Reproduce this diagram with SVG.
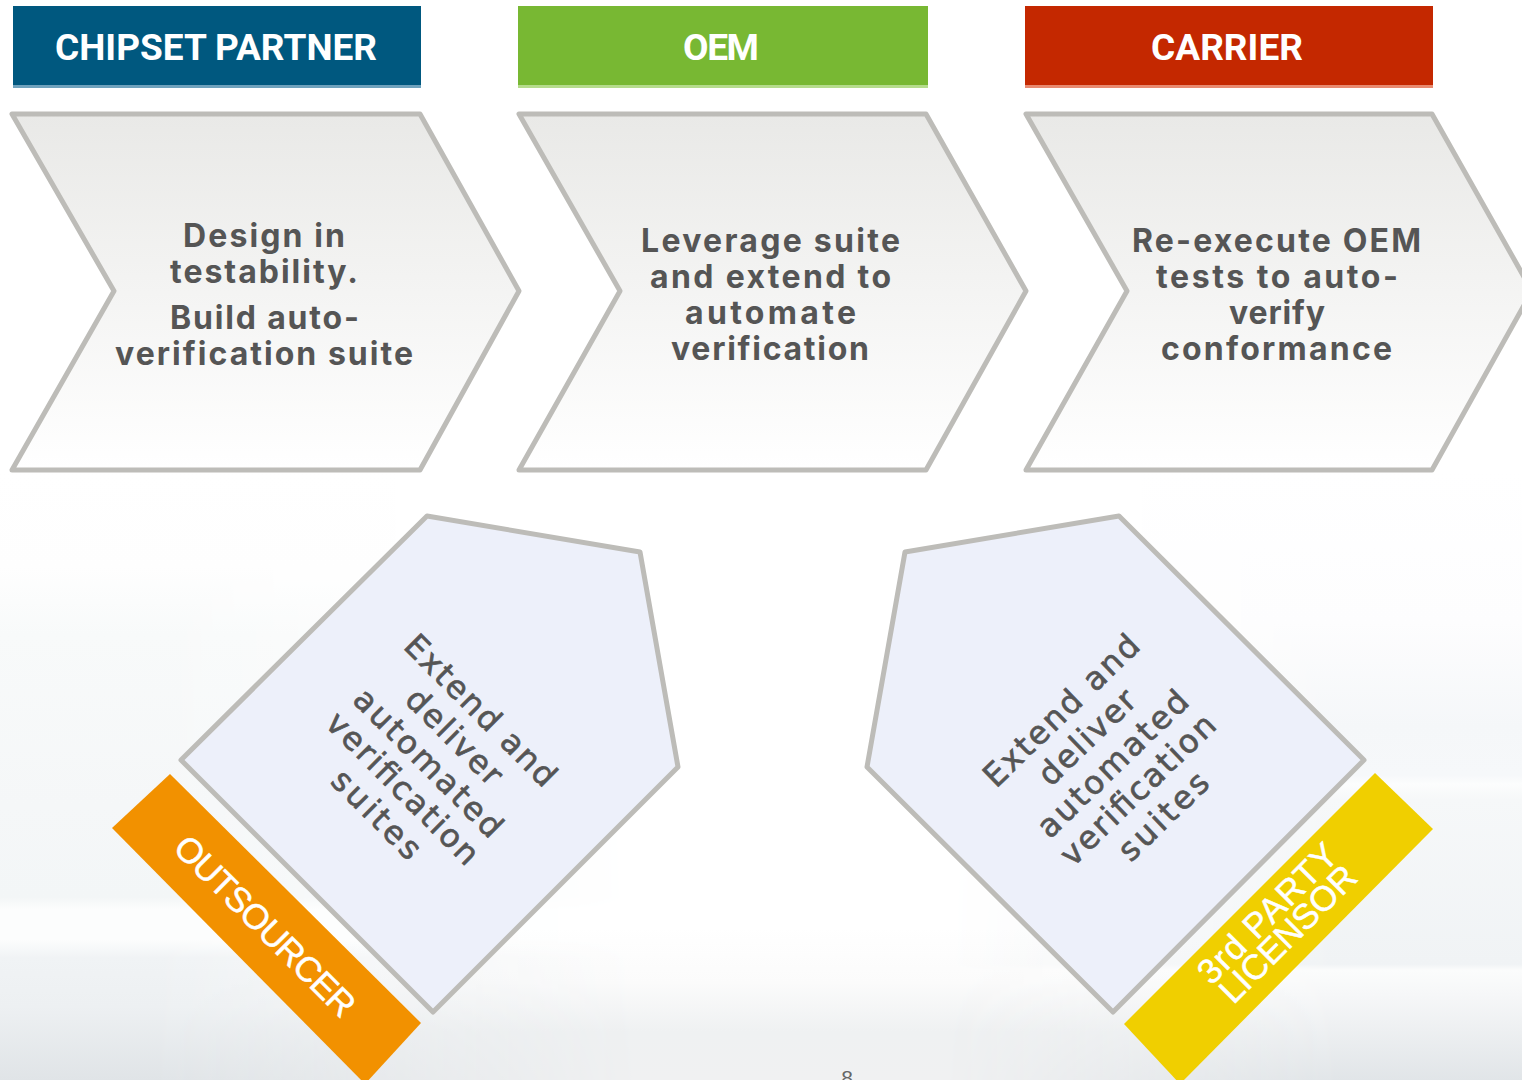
<svg xmlns="http://www.w3.org/2000/svg" width="1522" height="1080" viewBox="0 0 1522 1080">
<defs>
<linearGradient id="skyL" x1="0" y1="470" x2="0" y2="1080" gradientUnits="userSpaceOnUse"><stop offset="0" stop-color="#fff"/><stop offset="0.16" stop-color="#fefefe"/><stop offset="0.27" stop-color="#f8fafa"/><stop offset="0.55" stop-color="#f5f7f8"/><stop offset="0.7" stop-color="#f3f6f7"/><stop offset="0.72" stop-color="#fcfdfd"/><stop offset="0.77" stop-color="#fcfdfd"/><stop offset="0.8" stop-color="#f0f3f5"/><stop offset="0.88" stop-color="#edf0f2"/><stop offset="1" stop-color="#e0e4e7"/></linearGradient>
<linearGradient id="skyR" x1="0" y1="470" x2="0" y2="1080" gradientUnits="userSpaceOnUse"><stop offset="0" stop-color="#fff"/><stop offset="0.25" stop-color="#fdfdfe"/><stop offset="0.42" stop-color="#f5f7f9"/><stop offset="0.5" stop-color="#f6f8fa"/><stop offset="0.515" stop-color="#fcfdfd"/><stop offset="0.54" stop-color="#f6f8f9"/><stop offset="0.81" stop-color="#f0f3f5"/><stop offset="0.82" stop-color="#fbfcfc"/><stop offset="0.86" stop-color="#f6f7f8"/><stop offset="1" stop-color="#e1e5e8"/></linearGradient>
<linearGradient id="skyC" x1="0" y1="470" x2="0" y2="1080" gradientUnits="userSpaceOnUse"><stop offset="0" stop-color="#fff"/><stop offset="0.75" stop-color="#fff"/><stop offset="0.84" stop-color="#fbfbfb"/><stop offset="0.92" stop-color="#eff1f2"/><stop offset="1" stop-color="#f0f1f2"/></linearGradient>
<linearGradient id="fadeL" x1="0" y1="0" x2="1522" y2="0" gradientUnits="userSpaceOnUse"><stop offset="0.1" stop-color="#fff"/><stop offset="0.42" stop-color="#000"/></linearGradient>
<linearGradient id="fadeR" x1="0" y1="0" x2="1522" y2="0" gradientUnits="userSpaceOnUse"><stop offset="0.62" stop-color="#000"/><stop offset="0.88" stop-color="#fff"/></linearGradient>
<mask id="mL" maskUnits="userSpaceOnUse" x="0" y="0" width="1522" height="1080"><rect width="1522" height="1080" fill="url(#fadeL)"/></mask>
<mask id="mR" maskUnits="userSpaceOnUse" x="0" y="0" width="1522" height="1080"><rect width="1522" height="1080" fill="url(#fadeR)"/></mask>
<linearGradient id="chev" x1="0" y1="0" x2="0" y2="1"><stop offset="0" stop-color="#e9e9e7"/><stop offset="1" stop-color="#fff"/></linearGradient>
<style>
.hd{font:700 37px Roboto,"Liberation Sans",Arial,sans-serif;fill:#fff}
.body{font:700 32px Inter,"Liberation Sans",Arial,sans-serif;fill:#555}
.chev{fill:url(#chev);stroke:#bdbcb8;stroke-width:5;stroke-linejoin:round}
.pent{fill:#edf0fa;stroke:#bdbcb8;stroke-width:5;stroke-linejoin:round}
.rot{font:32px "DejaVu Sans",Arial,sans-serif;fill:#555;stroke:#555;stroke-width:.7}
.tag{font:35px "Liberation Sans",Arial,sans-serif;fill:#fff;stroke:#fff;stroke-width:.5}
</style>
</defs>
<g id="background"><rect width="1522" height="1080" fill="url(#skyC)"/>
<rect width="1522" height="1080" fill="url(#skyL)" mask="url(#mL)"/>
<rect width="1522" height="1080" fill="url(#skyR)" mask="url(#mR)"/></g>
<g id="connectors"/>
<g id="header-chipset"><rect x="13" y="6" width="408" height="82" fill="#00587f"/><rect x="13" y="85" width="408" height="3" fill="#6fa2bd"/><text class="hd" x="55" y="60" textLength="322">CHIPSET PARTNER</text></g>
<g id="header-oem"><rect x="518" y="6" width="410" height="82" fill="#78b833"/><rect x="518" y="85" width="410" height="3" fill="#b5dc8c"/><text class="hd" x="683" y="60" textLength="76">OEM</text></g>
<g id="header-carrier"><rect x="1025" y="6" width="408" height="82" fill="#c42800"/><rect x="1025" y="85" width="408" height="3" fill="#e88a70"/><text class="hd" x="1151" y="60" textLength="152">CARRIER</text></g>
<g id="step-chipset"><path class="chev" d="M12 114H420L519 291 420 470H12L114 291Z"/>
<text class="body" x="183" y="247" textLength="162">Design in</text>
<text class="body" x="170" y="283" textLength="188">testability.</text>
<text class="body" x="170" y="329" textLength="189">Build auto-</text>
<text class="body" x="115" y="365" textLength="298">verification suite</text></g>
<g id="step-oem"><path class="chev" d="M519 114H926L1026 291 926 470H519L620 291Z"/>
<text class="body" x="641" y="252" textLength="259">Leverage suite</text>
<text class="body" x="650" y="288" textLength="241">and extend to</text>
<text class="body" x="685" y="324" textLength="171">automate</text>
<text class="body" x="671" y="360" textLength="198">verification</text></g>
<g id="step-carrier"><path class="chev" d="M1026 114H1432L1532 291 1432 470H1026L1127 291Z"/>
<text class="body" x="1132" y="252" textLength="289">Re-execute OEM</text>
<text class="body" x="1156" y="288" textLength="242">tests to auto-</text>
<text class="body" x="1229" y="324" textLength="96">verify</text>
<text class="body" x="1161" y="360" textLength="231">conformance</text></g>
<g id="outsourcer"><path class="pent" d="M427 516L640 552 678 767 433 1012 181 760Z"/>
<g transform="translate(429 762) rotate(45)" text-anchor="middle">
<text class="rot" x="0" y="-62" textLength="200">Extend and</text>
<text class="rot" x="0" y="-25" textLength="122">deliver</text>
<text class="rot" x="0" y="12" textLength="196">automated</text>
<text class="rot" x="0" y="48" textLength="201">verification</text>
<text class="rot" x="0" y="85" textLength="112">suites</text></g>
<path d="M170 774L421 1023 365 1084 112 828Z" fill="#f29100"/>
<text class="tag" transform="translate(265 926) rotate(45)" text-anchor="middle" y="12" textLength="240">OUTSOURCER</text></g>
<g id="licensor"><path class="pent" d="M1119 516L905 552 867 767 1113 1012 1364 760Z"/>
<g transform="translate(1112 763) rotate(-44)" text-anchor="middle">
<text class="rot" x="0" y="-62" textLength="203">Extend and</text>
<text class="rot" x="0" y="-25" textLength="122">deliver</text>
<text class="rot" x="0" y="12" textLength="196">automated</text>
<text class="rot" x="0" y="48" textLength="202">verification</text>
<text class="rot" x="0" y="85" textLength="112">suites</text></g>
<path d="M1375 773L1433 829 1180 1084 1124 1024Z" fill="#f0cf00"/>
<g transform="translate(1278 924) rotate(-45)" text-anchor="middle">
<text class="tag" x="0" y="-3" textLength="182">3rd PARTY</text>
<text class="tag" x="0" y="26" textLength="178">LICENSOR</text></g></g>
<text id="page-number" x="847" y="1085" text-anchor="middle" font-family="Liberation Sans, sans-serif" font-size="21" fill="#666">8</text>
</svg>
